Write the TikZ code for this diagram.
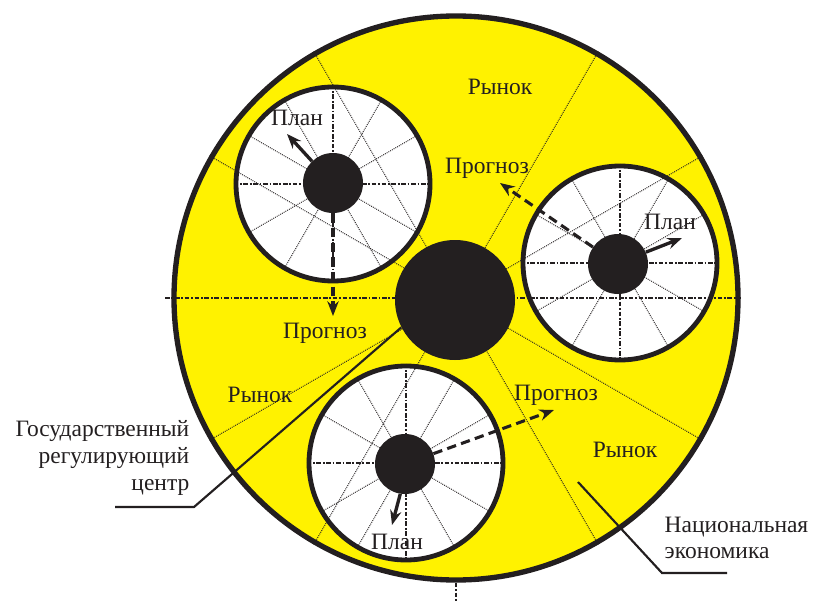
\documentclass[tikz,border=0pt]{standalone}
\usepackage{fontspec}
\setmainfont{Liberation Serif}
\usetikzlibrary{arrows.meta}
\definecolor{EconYellow}{RGB}{255,242,0}
\definecolor{InkBlack}{RGB}{35,31,32}

\begin{document}
\begin{tikzpicture}[x=0.75pt, y=-0.75pt, >={Stealth[length=11pt,width=8.5pt]},
    every node/.style={font=\fontsize{17.6}{20}\selectfont, text=InkBlack},
    econ/.style={circle, draw=InkBlack, fill=EconYellow, line width=4pt,
        minimum size=423pt, inner sep=0pt},
    wheel/.style={circle, draw=InkBlack, fill=white, line width=3.6pt,
        minimum size=145.5pt, inner sep=0pt},
    hub/.style={circle, fill=InkBlack, minimum size=45pt, inner sep=0pt},
    gov/.style={circle, fill=InkBlack, minimum size=90pt, inner sep=0pt},
    spoke/.style={draw=InkBlack, line width=0.7pt, dash pattern=on 0.7pt off 0.8pt},
    axisline/.style={draw=InkBlack, line width=2pt,
        dash pattern=on 3.5pt off 1.3pt on 1.3pt off 1.3pt},
    plan/.style={->, draw=InkBlack, line width=2.5pt},
    prog/.style={->, draw=InkBlack, line width=2.3pt, dash pattern=on 7pt off 4pt},
    leader/.style={draw=InkBlack, line width=1.6pt}]
\useasboundingbox (0,0) rectangle (816,602);

\node[econ] (econ) at (456,298) {};
\node[wheel] (wheelA) at (333,184) {};
\node[wheel] (wheelB) at (620,263) {};
\node[wheel] (wheelC) at (406,463) {};

% спицы колёс
\foreach \w in {wheelA,wheelB,wheelC} {
    \foreach \a in {30,60,120,150,210,240,300,330}
        \draw[spoke] (\w.center) -- (\w.\a);
    \draw[axisline] (\w.west) -- (\w.east);
    \draw[axisline] (\w.north) -- (\w.south);
}

% секторы рынка
\foreach \a in {30,60,120,150,210,240,300,330}
    \draw[spoke] (econ.center) -- (econ.\a);
\coordinate (axisW) at (165,298);
\coordinate (axisS) at (456,602);
\draw[axisline] (axisW) -- (econ.east);
\draw[axisline] (econ.south) -- (axisS);

\node[hub] (hubA) at (333,183) {};
\node[hub] (hubB) at (618,264) {};
\node[hub] (hubC) at (405,464) {};
\node[gov] (gov) at (455,300) {};

\node (planA) at (297,118) {План};
\node (progA) at (325,333) {Прогноз};
\node (progB) at (487,168) {Прогноз};
\node (planB) at (670,222) {План};
\node (progC) at (556,395) {Прогноз};
\node (planC) at (397,542) {План};
\node (market1) at (500,87) {Рынок};
\node (market2) at (260,395) {Рынок};
\node (market3) at (625,450) {Рынок};
\node[anchor=east, align=right] (govtxt) at (194,458)
    {Государственный\\регулирующий\\центр};
\node[anchor=west, align=left] (econtxt) at (660,538)
    {Национальная\\экономика};

\coordinate (planAtip) at (287,134);
\coordinate (progAtip) at (333,316);
\coordinate (progBtip) at (500,183);
\coordinate (planBtip) at (682,238);
\coordinate (progCtip) at (554,410);
\coordinate (planCtip) at (392,525);
\draw[plan] (hubA.134) -- (planAtip);
\draw[prog] (hubA.south) -- (progAtip);
\draw[prog] (hubB.146) -- (progBtip);
\draw[plan] (hubB.23) -- (planBtip);
\draw[prog] (hubC.20) -- (progCtip);
\draw[plan] (hubC.261) -- (planCtip);

\coordinate (govend) at (115,507);
\coordinate (econend) at (727,573);
\coordinate (econpin) at (578,482);
\draw[leader] (govend) -- ++(79,0) -- (gov.207);
\draw[leader] (econend) -- ++(-65,0) -- (econpin);
\end{tikzpicture}
\end{document}
